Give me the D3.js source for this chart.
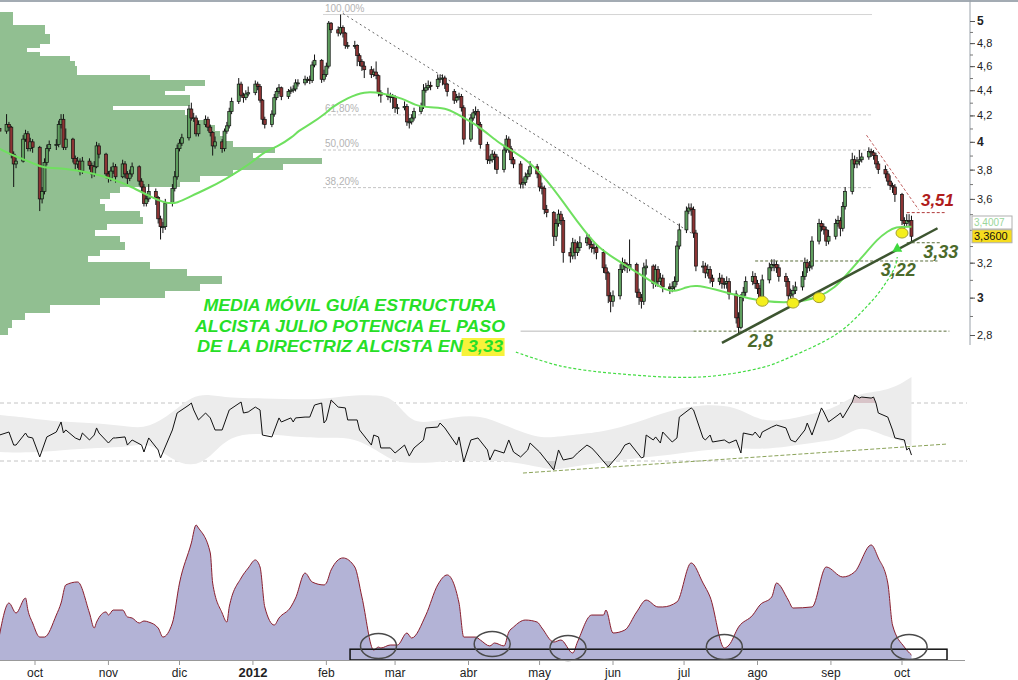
<!DOCTYPE html>
<html>
<head>
<meta charset="utf-8">
<script src="https://cdn.jsdelivr.net/npm/d3@7"></script>
<style>
body { margin: 0; background: #fff; }
svg { display: block; font-family: "Liberation Sans", Arial, sans-serif; }
</style>
</head>
<body>
<script>

// daily closes, one per trading day from 16 sep 2011 to 5 oct 2012
var firstOpen = 4.10;
var closes = [4.08,4.13,4.11,3.91,3.84,3.86,4.02,4.06,3.95,4.00,
3.96,3.60,3.65,3.85,3.95,3.98,3.98,4.13,4.17,3.96,
4.02,3.88,3.84,3.86,3.79,3.86,3.83,3.77,3.82,3.97,
3.91,3.77,3.74,3.79,3.82,3.75,3.84,3.77,3.74,3.77,
3.82,3.72,3.68,3.57,3.60,3.65,3.61,3.47,3.42,3.42,
3.57,3.67,3.75,3.95,3.99,4.03,4.25,4.18,4.18,4.06,
4.13,4.17,4.11,4.07,3.97,4.00,3.95,4.08,4.12,4.23,
4.31,4.45,4.36,4.34,4.37,4.38,4.45,4.43,4.32,4.17,
4.13,4.21,4.34,4.39,4.42,4.35,4.39,4.40,4.41,4.46,
4.46,4.49,4.49,4.48,4.61,4.65,4.49,4.53,4.60,4.98,
4.92,4.89,4.94,4.89,4.78,4.78,4.78,4.69,4.64,4.60,
4.57,4.53,4.55,4.52,4.38,4.36,4.35,4.35,4.34,4.26,
4.26,4.27,4.15,4.15,4.18,4.23,4.27,4.40,4.42,4.44,
4.43,4.49,4.50,4.50,4.45,4.39,4.32,4.34,4.35,4.26,
4.02,4.18,4.22,4.23,4.13,3.98,3.87,3.87,3.91,3.89,
3.80,3.94,4.02,3.95,3.87,3.84,3.70,3.71,3.75,3.77,
3.82,3.77,3.68,3.67,3.53,3.51,3.36,3.44,3.50,3.46,
3.26,3.24,3.32,3.26,3.29,3.32,3.35,3.31,3.29,3.29,
3.26,3.17,3.14,3.01,2.98,3.01,3.16,3.20,3.18,3.17,
3.19,3.03,3.00,2.98,3.17,3.18,3.08,3.16,3.09,3.11,
3.06,3.05,3.06,3.09,3.30,3.40,3.52,3.54,3.53,3.38,
3.18,3.18,3.14,3.16,3.11,3.09,3.11,3.08,3.08,3.09,
3.02,2.89,2.84,3.00,3.03,3.09,3.12,3.08,3.05,3.00,
3.10,3.17,3.19,3.19,3.17,3.12,3.09,3.01,3.02,3.04,
3.06,3.12,3.20,3.17,3.18,3.33,3.44,3.42,3.40,3.33,
3.36,3.44,3.46,3.41,3.55,3.65,3.87,3.84,3.86,3.87,
3.89,3.93,3.92,3.90,3.84,3.80,3.77,3.72,3.69,3.68,
3.63,3.46,3.44,3.46,3.46,3.36];

var highs = [4.17,4.21,4.15,4.12,3.93,3.90,4.05,4.09,4.08,4.03,
4.02,3.97,3.68,3.88,3.98,4.01,4.02,4.16,4.21,4.21,
4.10,4.03,3.90,3.89,3.88,3.89,3.88,3.85,3.86,4.00,
3.99,3.92,3.79,3.82,3.85,3.84,3.87,3.86,3.79,3.80,
3.85,3.83,3.74,3.70,3.63,3.70,3.67,3.62,3.49,3.45,
3.60,3.70,3.79,3.98,4.02,4.06,4.28,4.30,4.22,4.20,
4.16,4.20,4.19,4.13,4.08,4.04,4.02,4.10,4.15,4.26,
4.34,4.50,4.47,4.38,4.40,4.43,4.48,4.47,4.45,4.33,
4.19,4.24,4.37,4.42,4.45,4.43,4.41,4.43,4.44,4.49,
4.49,4.52,4.51,4.52,4.64,4.70,4.66,4.57,4.63,5.00,
4.99,4.95,5.06,4.96,4.90,4.81,4.82,4.79,4.71,4.66,
4.64,4.60,4.58,4.64,4.53,4.40,4.42,4.38,4.37,4.36,
4.29,4.31,4.29,4.18,4.21,4.26,4.30,4.45,4.46,4.48,
4.47,4.53,4.53,4.53,4.52,4.46,4.41,4.37,4.38,4.37,
4.28,4.21,4.25,4.27,4.25,4.15,4.00,3.90,3.94,3.93,
3.91,3.97,4.05,4.04,3.97,3.89,3.86,3.74,3.78,3.80,
3.86,3.84,3.79,3.71,3.69,3.56,3.52,3.47,3.53,3.52,
3.48,3.29,3.35,3.34,3.33,3.36,3.38,3.37,3.33,3.32,
3.31,3.28,3.19,3.15,3.03,3.04,3.19,3.23,3.22,3.20,
3.34,3.20,3.05,3.02,3.20,3.22,3.19,3.19,3.18,3.14,
3.13,3.08,3.09,3.12,3.33,3.44,3.55,3.57,3.57,3.55,
3.40,3.21,3.20,3.19,3.18,3.13,3.14,3.13,3.11,3.12,
3.11,3.04,2.92,3.02,3.06,3.12,3.15,3.14,3.10,3.07,
3.13,3.20,3.22,3.22,3.21,3.19,3.14,3.11,3.05,3.07,
3.09,3.15,3.23,3.22,3.21,3.36,3.47,3.46,3.44,3.42,
3.40,3.47,3.49,3.48,3.58,3.68,3.92,3.90,3.89,3.94,
3.92,3.96,3.95,3.94,3.92,3.86,3.83,3.79,3.76,3.71,
3.70,3.64,3.48,3.50,3.50,3.49];

var lows = [4.05,4.06,4.08,3.88,3.68,3.81,3.85,4.00,3.93,3.93,
3.92,3.52,3.57,3.63,3.83,3.93,3.94,3.96,4.10,3.94,
3.94,3.85,3.80,3.81,3.76,3.77,3.80,3.74,3.75,3.81,
3.88,3.74,3.71,3.72,3.77,3.71,3.74,3.74,3.70,3.72,
3.75,3.69,3.64,3.55,3.55,3.58,3.56,3.44,3.34,3.38,
3.40,3.55,3.65,3.73,3.93,3.97,4.01,4.16,4.15,4.04,
4.04,4.11,4.08,4.04,3.90,3.95,3.92,3.93,4.06,4.10,
4.21,4.29,4.34,4.30,4.32,4.35,4.36,4.40,4.30,4.13,
4.10,4.11,4.19,4.32,4.37,4.32,4.33,4.37,4.38,4.39,
4.43,4.44,4.46,4.45,4.46,4.59,4.46,4.47,4.51,4.58,
4.89,4.86,4.87,4.85,4.75,4.75,4.75,4.60,4.60,4.56,
4.50,4.50,4.51,4.49,4.35,4.30,4.32,4.30,4.25,4.22,
4.21,4.24,4.12,4.10,4.13,4.16,4.21,4.25,4.38,4.40,
4.40,4.41,4.46,4.44,4.41,4.35,4.29,4.30,4.32,4.23,
3.98,4.00,4.16,4.20,4.10,3.95,3.84,3.84,3.85,3.80,
3.77,3.78,3.92,3.92,3.84,3.81,3.67,3.67,3.69,3.73,
3.75,3.74,3.65,3.63,3.50,3.48,3.30,3.33,3.42,3.43,
3.20,3.20,3.22,3.22,3.24,3.27,3.30,3.28,3.26,3.25,
3.22,3.14,3.10,2.97,2.92,2.95,2.99,3.14,3.15,3.14,
3.15,3.00,2.96,2.94,2.96,3.13,3.05,3.06,3.06,3.07,
3.03,3.02,3.03,3.04,3.07,3.28,3.38,3.50,3.49,3.35,
3.15,3.14,3.11,3.12,3.08,3.06,3.07,3.05,3.05,3.05,
2.99,2.86,2.81,2.83,2.98,3.01,3.07,3.05,3.02,2.97,
2.98,3.08,3.15,3.15,3.14,3.09,3.06,2.98,2.98,3.00,
3.02,3.04,3.10,3.14,3.15,3.16,3.31,3.39,3.37,3.30,
3.31,3.34,3.42,3.36,3.39,3.53,3.63,3.81,3.81,3.83,
3.85,3.87,3.89,3.87,3.81,3.77,3.74,3.69,3.66,3.64,
3.58,3.43,3.40,3.42,3.42,3.33];

// moving average: [trading day index, price]
var maPoints = [[0,3.95],[5,3.89],[10,3.85],[12,3.81],[20,3.81],[26,3.78],[33,3.74],[40,3.68],
[45,3.62],[50,3.57],[53,3.57],[57,3.62],[62,3.67],[68,3.74],[72,3.80],[76,3.87],[80,3.93],
[83,3.96],[88,4.04],[90,4.08],[93,4.13],[98,4.22],[100,4.26],[105,4.34],[110,4.39],[115,4.38],
[121,4.33],[125,4.28],[130,4.26],[135,4.26],[140,4.18],[145,4.11],[150,4.00],[155,3.93],
[160,3.85],[165,3.73],[170,3.58],[175,3.43],[180,3.30],[185,3.23],[190,3.17],[195,3.11],
[200,3.05],[203,3.03],[206,3.06],[210,3.07],[215,3.05],[225,3.00],[230,2.98],[239,2.97],
[246,3.00],[251,3.06],[255,3.12],[260,3.23],[265,3.35],[267,3.39],[270,3.42],[275,3.42]];

// volume by price: lower edge of each 0,04 bin and its volume
var profileLevels = [2.80,2.84,2.88,2.92,2.96,3.00,3.04,3.08,3.12,3.16,3.20,3.24,3.28,3.32,3.36,
3.40,3.44,3.48,3.52,3.56,3.60,3.64,3.68,3.72,3.76,3.80,3.84,3.88,3.92,3.96,4.00,4.04,4.08,
4.12,4.16,4.20,4.24,4.28,4.32,4.36,4.40,4.44,4.48,4.52,4.56,4.60,4.64,4.68,4.72,4.76,4.80,
4.84,4.88,4.92,4.96,5.00,5.04];
var profileVolume = [8,12,25,50,100,165,200,222,187,150,88,100,125,120,95,
107,143,140,105,100,110,120,180,200,233,283,322,253,275,233,225,220,215,
205,190,185,113,190,190,165,185,205,150,77,77,75,70,40,27,40,50,
50,45,45,13,13,13];

// rsi: [day index, value]
var rsiPoints = [[0,47.9],[2,50.0],[4,41.0],[5,41.0],[7,49.3],[8,46.6],[10,45.9],[11,32.8],[14,46.6],
[16,50.0],[18,56.9],[19,49.3],[20,51.4],[22,45.9],[24,44.5],[25,49.3],[26,44.5],[28,47.9],[29,52.8],
[30,49.3],[32,42.4],[34,45.9],[35,45.9],[37,46.6],[38,41.0],[40,44.5],[42,41.0],[43,36.2],[45,45.9],
[47,37.6],[48,32.1],[51,51.4],[53,63.1],[56,68.6],[57,70.0],[58,65.2],[60,58.3],[61,63.1],[63,59.7],
[65,51.4],[66,51.4],[69,65.2],[72,70.7],[73,63.1],[75,63.8],[76,67.2],[78,65.2],[79,47.9],[81,46.6],
[84,59.7],[85,56.9],[87,59.7],[88,56.9],[89,59.7],[91,60.3],[93,60.3],[95,68.6],[96,70.0],[97,56.2],
[98,58.3],[100,72.1],[101,67.2],[104,66.6],[105,58.3],[107,58.3],[108,51.4],[111,41.0],[112,47.9],
[114,46.6],[115,39.0],[117,39.0],[119,35.5],[121,41.0],[123,33.4],[125,39.0],[127,44.5],[128,52.8],
[131,53.4],[132,56.2],[134,52.8],[137,41.0],[138,46.6],[140,29.3],[141,44.5],[144,45.9],[146,37.6],
[147,30.7],[149,37.6],[151,35.5],[153,44.5],[155,36.2],[156,32.8],[159,37.6],[160,42.4],[162,36.2],
[164,32.1],[166,23.8],[168,37.6],[170,30.7],[172,32.1],[174,35.5],[176,41.0],[178,39.0],[180,35.5],
[183,25.9],[186,35.5],[188,41.0],[190,42.4],[193,32.1],[194,32.8],[195,47.9],[196,44.5],[197,46.6],
[199,42.4],[200,50.0],[202,43.1],[204,45.9],[205,60.3],[208,66.6],[209,65.2],[211,45.9],[212,44.5],
[214,47.9],[215,43.1],[218,44.5],[220,42.4],[221,44.5],[223,35.5],[224,49.3],[226,47.9],[227,50.0],
[229,45.9],[230,50.0],[232,53.4],[234,54.8],[236,52.8],[238,44.5],[240,43.1],[242,51.4],[243,56.2],
[245,47.9],[247,66.6],[248,63.8],[250,56.9],[252,61.7],[253,63.1],[254,59.7],[256,70.7],[257,75.5],
[259,73.4],[260,74.1],[262,73.4],[263,74.1],[264,70.0],[265,63.1],[267,60.3],[269,51.4],[270,45.9],
[272,44.5],[273,37.6],[274,39.0],[275,34.1]];

// rsi envelope: [day index, lower, upper]
var bandPoints = [[0,36.2,61.7],[9,35.5,59.7],[18,37.6,56.9],[30,39.0,56.2],[39,39.7,53.4],
[45,43.1,52.8],[51,30.7,63.1],[57,25.9,75.0],[63,32.1,76.0],[69,47.9,73.4],[79,49.3,73.4],
[91,46.0,72.1],[100,46.0,73.4],[106,46.0,75.5],[115,35.5,75.5],[119,29.3,72.1],[124,28.8,56.2],
[130,28.6,56.9],[136,30.7,60.3],[145,29.3,61.7],[151,30.7,54.8],[161,25.9,45.9],[166,23.8,46.5],
[171,25.9,47.9],[181,29.3,50.0],[191,32.1,56.2],[201,34.1,65.2],[211,37.6,69.0],[221,39.0,68.0],
[229,38.0,56.9],[237,40.0,58.3],[247,43.5,63.8],[252,44.5,68.0],[258,53.4,76.0],[262,51.4,77.5],
[267,46.6,79.0],[272,43.1,84.5],[275,39.7,87.9]];

// lower oscillator: [day index, value]
var oscPoints = [[0,18.5],[2,42.2],[5,34.8],[7,45.9],[8,37.0],[10,27.4],[11,17.0],[13,17.0],[16,33.3],
[18,42.2],[20,55.6],[23,57.8],[26,34.8],[28,23.7],[29,28.1],[31,35.6],[32,33.3],[34,37.0],[36,37.0],
[38,31.9],[40,31.1],[41,27.4],[43,28.9],[45,28.1],[47,23.7],[49,17.0],[51,27.4],[54,57.0],[57,86.7],
[59,100],[60,97.8],[63,79.3],[64,57.0],[66,34.8],[68,28.1],[69,39.3],[72,60.7],[75,68.1],[76,74.1],
[78,68.9],[80,39.3],[82,25.9],[84,31.1],[87,39.3],[89,45.9],[91,64.4],[94,57.8],[97,55.6],[98,57.0],
[100,66.7],[103,75.6],[106,68.9],[109,46.7],[112,7.4],[114,9.6],[115,8.9],[117,11.1],[120,11.1],
[122,20.0],[124,16.3],[128,33.3],[131,55.6],[135,63.0],[138,42.2],[140,17.0],[143,17.0],[145,14.8],
[147,10.4],[149,12.6],[151,10.4],[153,20.7],[155,24.4],[158,29.6],[161,28.1],[163,23.7],[166,13.3],
[169,14.8],[172,5.2],[174,13.3],[178,33.3],[181,33.3],[182,37.0],[185,20.0],[188,22.2],[191,35.6],
[195,44.4],[198,39.3],[200,39.3],[204,43.0],[208,71.9],[211,57.0],[214,46.7],[218,8.9],[220,11.1],
[222,24.4],[226,33.3],[229,40.7],[232,46.7],[234,57.0],[237,44.4],[239,38.5],[245,39.3],[249,68.9],
[254,61.5],[257,65.2],[262,85.2],[265,75.6],[267,57.0],[269,25.9],[272,9.6],[275,3.7]];

// fibonacci retracement
var fibHigh = 5.06, fibLow = 2.82;
var fibLevels = [1, 0.618, 0.5, 0.382];
var fibLabels = ["100,00%", "61,80%", "50,00%", "38,20%"];

var monthNames = ["ene","feb","mar","abr","may","jun","jul","ago","sep","oct","nov","dic"];
var lastPrice = 3.36, lastMa = 3.4007;

var width = 1018, height = 680;
var svg = d3.select("body").append("svg")
    .attr("width", width)
    .attr("height", height);

var parse = d3.timeParse("%Y-%m-%d");
var days = d3.timeDay.range(new Date(2011, 8, 16), new Date(2012, 9, 6))
    .filter(function(d) { return d.getDay() % 6 != 0; });

var x = d3.scaleTime()
    .domain([new Date(2011, 9, 1), new Date(2012, 9, 1)])
    .range([35, 902]);
var y = d3.scaleLog().domain([2.8, 5]).range([335, 21]);
var yRsi = d3.scaleLinear().domain([30, 70]).range([461, 403]);
var yOsc = d3.scaleLinear().domain([0, 100]).range([660, 525]);
var xVol = d3.scaleLinear().domain([0, d3.max(profileVolume)]).range([0, 322]);

function xi(i) { return x(days[i]); }
function xd(s) { return x(parse(s)); }

// top frame line
svg.append("line")
    .attr("x1", 0).attr("x2", width).attr("y1", 1).attr("y2", 1)
    .style("stroke", "#a3abb3").style("stroke-width", 2);

// volume profile
svg.append("g").selectAll("rect")
    .data(profileLevels)
    .enter().append("rect")
    .attr("x", 0)
    .attr("y", function(d) { return Math.floor(y(d + 0.04)); })
    .attr("height", function(d) { return Math.ceil(y(d)) - Math.floor(y(d + 0.04)); })
    .attr("width", function(d, i) { return Math.round(xVol(profileVolume[i])); })
    .attr("shape-rendering", "crispEdges")
    .style("fill", "#91bf91");

// fibonacci lines
fibLevels.forEach(function(f, i) {
    var v = fibLow + f * (fibHigh - fibLow);
    svg.append("line")
        .attr("x1", 323).attr("x2", 872)
        .attr("y1", y(v)).attr("y2", y(v))
        .style("stroke", i == 0 ? "#d4d4d4" : "#c4c4c4")
        .style("stroke-dasharray", i == 0 ? null : "3,2");
    svg.append("text")
        .attr("x", 325).attr("y", y(v) - 3)
        .style("font-size", "10px").style("fill", "#b4b4b4")
        .text(fibLabels[i]);
});

// bearish trendline from the february top
svg.append("line")
    .attr("x1", xd("2012-02-08")).attr("y1", y(5.07))
    .attr("x2", xd("2012-07-04")).attr("y2", y(3.38))
    .style("stroke", "#666").style("stroke-dasharray", "2,3");

// candles
var candles = closes.map(function(c, i) {
    return {i: i, open: i ? closes[i - 1] : firstOpen, high: highs[i], low: lows[i], close: c};
});

var cg = svg.append("g");
cg.selectAll("line")
    .data(candles)
    .enter().append("line")
    .attr("x1", function(d) { return xi(d.i); })
    .attr("x2", function(d) { return xi(d.i); })
    .attr("y1", function(d) { return y(d.high); })
    .attr("y2", function(d) { return y(d.low); })
    .style("stroke", "#111").style("stroke-width", 1);

cg.selectAll("rect")
    .data(candles)
    .enter().append("rect")
    .attr("x", function(d) { return xi(d.i) - 1.5; })
    .attr("width", 3)
    .attr("y", function(d) { return y(Math.max(d.open, d.close)); })
    .attr("height", function(d) { return Math.max(1, Math.abs(y(d.open) - y(d.close))); })
    .style("fill", function(d) { return d.close >= d.open ? "#5f9f5f" : "#8c3434"; })
    .style("stroke", "#111").style("stroke-width", 0.7);

// moving average
svg.append("path")
    .datum(maPoints)
    .attr("d", d3.line().curve(d3.curveBasis)
        .x(function(d) { return xi(d[0]); })
        .y(function(d) { return y(d[1]); }))
    .style("fill", "none").style("stroke", "#6fe05f").style("stroke-width", 2);

// support and resistance marks
function hline(a, b, v, color, dash) {
    svg.append("line")
        .attr("x1", xd(a)).attr("x2", xd(b)).attr("y1", y(v)).attr("y2", y(v))
        .style("stroke", color).style("stroke-dasharray", dash);
}
hline("2012-04-23", "2012-07-05", 2.82, "#b8b8b8", null);
hline("2012-07-05", "2012-10-21", 2.82, "#5b6e3b", "3,2");
hline("2012-07-31", "2012-10-16", 3.21, "#5b6e3b", "3,2");
hline("2012-10-03", "2012-10-17", 3.32, "#5b6e3b", "3,2");
hline("2012-10-03", "2012-10-19", 3.51, "#b03a3a", "3,2");

svg.append("line")
    .attr("x1", xd("2012-09-16")).attr("y1", y(4.05))
    .attr("x2", xd("2012-10-08")).attr("y2", y(3.53))
    .style("stroke", "#c06060").style("stroke-dasharray", "3,2");

svg.append("line")
    .attr("x1", xd("2012-07-17")).attr("y1", y(2.76))
    .attr("x2", xd("2012-10-16")).attr("y2", y(3.41))
    .style("stroke", "#3d5530").style("stroke-width", 2.5);

// curved arrow from the comment to the last touch
var arrowPts = [["2012-04-21", 2.713], ["2012-05-10", 2.644], ["2012-06-04", 2.606], ["2012-07-08", 2.591],
    ["2012-08-03", 2.637], ["2012-08-15", 2.689], ["2012-09-04", 2.810], ["2012-09-16", 2.949],
    ["2012-09-23", 3.060], ["2012-09-28", 3.175], ["2012-09-29", 3.234]];
svg.append("path")
    .datum(arrowPts)
    .attr("d", d3.line().curve(d3.curveCatmullRom)
        .x(function(d) { return xd(d[0]); })
        .y(function(d) { return y(d[1]); }))
    .style("fill", "none").style("stroke", "#44dc44").style("stroke-width", 1.2)
    .style("stroke-dasharray", "3,2");

var tip = [xd("2012-09-29"), y(3.29)];
svg.append("path")
    .attr("d", "M" + tip[0] + "," + (tip[1] - 5) + "L" + (tip[0] + 5) + "," + (tip[1] + 4)
        + "L" + (tip[0] - 5) + "," + (tip[1] + 4) + "Z")
    .style("fill", "#3fd83f");

// touches on the moving average
var touches = [[230, 2.98], [239, 2.97], [246, 3.00], [271, 3.38]];
svg.append("g").selectAll("ellipse")
    .data(touches)
    .enter().append("ellipse")
    .attr("cx", function(d) { return xi(d[0]); })
    .attr("cy", function(d) { return y(d[1]); })
    .attr("rx", 6).attr("ry", 5)
    .style("fill", "#f4ef1c").style("stroke", "#a5a030").style("stroke-width", 1);

// level labels
var levelLabels = [["3,51", "2012-10-09", 3.55, "#b01c1c", 17],
    ["3,33", "2012-10-10", 3.23, "#4b6a2b", 18],
    ["3,22", "2012-09-22", 3.12, "#4b6a2b", 18],
    ["2,8", "2012-07-28", 2.74, "#4b6a2b", 18]];
levelLabels.forEach(function(l) {
    svg.append("text")
        .attr("x", xd(l[1])).attr("y", y(l[2]))
        .style("font-size", l[4] + "px").style("font-weight", "bold").style("font-style", "italic")
        .style("fill", l[3])
        .text(l[0]);
});

// comment text
var note = ["MEDIA MÓVIL GUÍA ESTRUCTURA", "ALCISTA JULIO POTENCIA EL PASO", "DE LA DIRECTRIZ ALCISTA EN 3,33"];
var noteWidth = [293, 310, 306];
var noteG = svg.append("g");
var hl = noteG.append("rect").style("fill", "#f7f23a");
note.forEach(function(t, i) {
    var tx = noteG.append("text")
        .attr("x", 350).attr("y", 311 + i * 20.5)
        .attr("text-anchor", "middle")
        .attr("textLength", noteWidth[i])
        .attr("lengthAdjust", "spacingAndGlyphs")
        .style("font-size", "17px").style("font-weight", "bold").style("font-style", "italic")
        .style("fill", "#27df27")
        .text(t);
    if (i == 2) {
        var b = tx.node().getBBox();
        hl.attr("x", b.x + b.width - 42).attr("y", b.y + 1).attr("width", 43).attr("height", b.height - 1);
    }
});

// right price axis; the 3,4 label sits under the last value boxes
svg.append("line")
    .attr("x1", 970).attr("x2", 970).attr("y1", 0).attr("y2", 345)
    .style("stroke", "#9aa2aa");

var minor = d3.range(28, 51).map(function(d) { return d / 10; });
var major = [2.8, 3, 3.2, 3.6, 3.8, 4, 4.2, 4.4, 4.6, 4.8, 5];

var minorAxis = svg.append("g")
    .attr("transform", "translate(970,0)")
    .call(d3.axisRight(y).tickValues(minor).tickSize(3).tickFormat(""));
minorAxis.select(".domain").remove();
minorAxis.selectAll("line").style("stroke", "#777");

var priceAxis = svg.append("g")
    .attr("transform", "translate(970,0)")
    .call(d3.axisRight(y).tickValues(major).tickSize(5).tickPadding(2)
        .tickFormat(function(d) { return d3.format(".1f")(d).replace(".", ",").replace(/,0$/, ""); }));
priceAxis.select(".domain").remove();
priceAxis.selectAll("line").style("stroke", "#555");
priceAxis.selectAll("text")
    .style("font-size", function(d) { return d % 1 == 0 ? "12px" : "11px"; })
    .style("font-weight", function(d) { return d % 1 == 0 ? "bold" : "normal"; })
    .style("fill", "#222");

// last values: moving average box sits just above the price box
var maBoxY = 216, priceBoxY = y(lastPrice) - 6.5;
svg.append("rect")
    .attr("x", 972).attr("y", maBoxY).attr("width", 40).attr("height", 13)
    .style("fill", "#fff").style("stroke", "#b0b0b0");
svg.append("text")
    .attr("x", 974).attr("y", maBoxY + 10)
    .style("font-size", "10px").style("fill", "#9ad69a")
    .text(d3.format(".4f")(lastMa).replace(".", ","));
svg.append("rect")
    .attr("x", 972).attr("y", priceBoxY).attr("width", 40).attr("height", 13)
    .style("fill", "#f6dc1e").style("stroke", "#b0b0b0");
svg.append("text")
    .attr("x", 974).attr("y", priceBoxY + 10.5)
    .style("font-size", "11px").style("fill", "#111")
    .text(d3.format(".4f")(lastPrice).replace(".", ","));

// rsi panel
[70, 30].forEach(function(v) {
    svg.append("line")
        .attr("x1", 0).attr("x2", 967).attr("y1", yRsi(v)).attr("y2", yRsi(v))
        .style("stroke", "#c4c4c4").style("stroke-dasharray", "4,3");
});

svg.append("path")
    .datum(bandPoints)
    .attr("d", d3.area().curve(d3.curveBasis)
        .x(function(d) { return xi(d[0]); })
        .y0(function(d) { return yRsi(d[1]); })
        .y1(function(d) { return yRsi(d[2]); }))
    .style("fill", "#ececec");

var defs = svg.append("defs");
defs.append("clipPath").attr("id", "over").append("rect")
    .attr("x", 0).attr("y", 0).attr("width", width).attr("height", yRsi(70));
defs.append("clipPath").attr("id", "under").append("rect")
    .attr("x", 0).attr("y", yRsi(30)).attr("width", width).attr("height", 60);

svg.append("path")
    .datum(rsiPoints)
    .attr("clip-path", "url(#over)")
    .attr("d", d3.area()
        .x(function(d) { return xi(d[0]); })
        .y0(yRsi(70))
        .y1(function(d) { return yRsi(d[1]); }))
    .style("fill", "#d8c4c8");

svg.append("path")
    .datum(rsiPoints)
    .attr("clip-path", "url(#under)")
    .attr("d", d3.area()
        .x(function(d) { return xi(d[0]); })
        .y0(yRsi(30))
        .y1(function(d) { return yRsi(d[1]); }))
    .style("fill", "#cccccc");

svg.append("line")
    .attr("x1", xd("2012-04-24")).attr("y1", yRsi(21.7))
    .attr("x2", xd("2012-10-20")).attr("y2", yRsi(41.7))
    .style("stroke", "#8ba35a").style("stroke-dasharray", "4,2");

svg.append("path")
    .datum(rsiPoints)
    .attr("d", d3.line()
        .x(function(d) { return xi(d[0]); })
        .y(function(d) { return yRsi(d[1]); }))
    .style("fill", "none").style("stroke", "#111").style("stroke-width", 1);

// lower oscillator
svg.append("path")
    .datum(oscPoints)
    .attr("d", d3.area().curve(d3.curveMonotoneX)
        .x(function(d) { return xi(d[0]); })
        .y0(yOsc(0))
        .y1(function(d) { return yOsc(d[1]); }))
    .style("fill", "#b3b3d6");

svg.append("path")
    .datum(oscPoints)
    .attr("d", d3.line().curve(d3.curveMonotoneX)
        .x(function(d) { return xi(d[0]); })
        .y(function(d) { return yOsc(d[1]); }))
    .style("fill", "none").style("stroke", "#8a1f2e").style("stroke-width", 1);

svg.append("rect")
    .attr("x", xd("2012-02-11")).attr("y", yOsc(8))
    .attr("width", xd("2012-10-20") - xd("2012-02-11"))
    .attr("height", yOsc(0) - yOsc(8))
    .style("fill", "none").style("stroke", "#111").style("stroke-width", 1.5);

var lows2 = [["2012-02-23", 10.4], ["2012-04-11", 11.9], ["2012-05-13", 8.9], ["2012-07-18", 9.6], ["2012-10-04", 9.6]];
svg.append("g").selectAll("ellipse")
    .data(lows2)
    .enter().append("ellipse")
    .attr("cx", function(d) { return xd(d[0]); })
    .attr("cy", function(d) { return yOsc(d[1]); })
    .attr("rx", 18).attr("ry", 12.5)
    .style("fill", "none").style("stroke", "#4a4a4a").style("stroke-width", 1.5);

// time axis
svg.append("line")
    .attr("x1", 0).attr("x2", 965).attr("y1", 660.5).attr("y2", 660.5)
    .style("stroke", "#999");

var months = d3.timeMonth.range(new Date(2011, 9, 1), new Date(2012, 9, 2));
var tg = svg.append("g").selectAll("g")
    .data(months)
    .enter().append("g")
    .attr("transform", function(d) { return "translate(" + x(d) + ",0)"; });
tg.append("line")
    .attr("y1", 661).attr("y2", 665)
    .style("stroke", "#999");
tg.append("text")
    .attr("y", 677)
    .attr("text-anchor", "middle")
    .style("font-size", function(d) { return d.getMonth() == 0 ? "13px" : "12px"; })
    .style("font-weight", function(d) { return d.getMonth() == 0 ? "bold" : "normal"; })
    .style("fill", "#222")
    .text(function(d) { return d.getMonth() == 0 ? d.getFullYear() : monthNames[d.getMonth()]; });

</script>
</body>
</html>
